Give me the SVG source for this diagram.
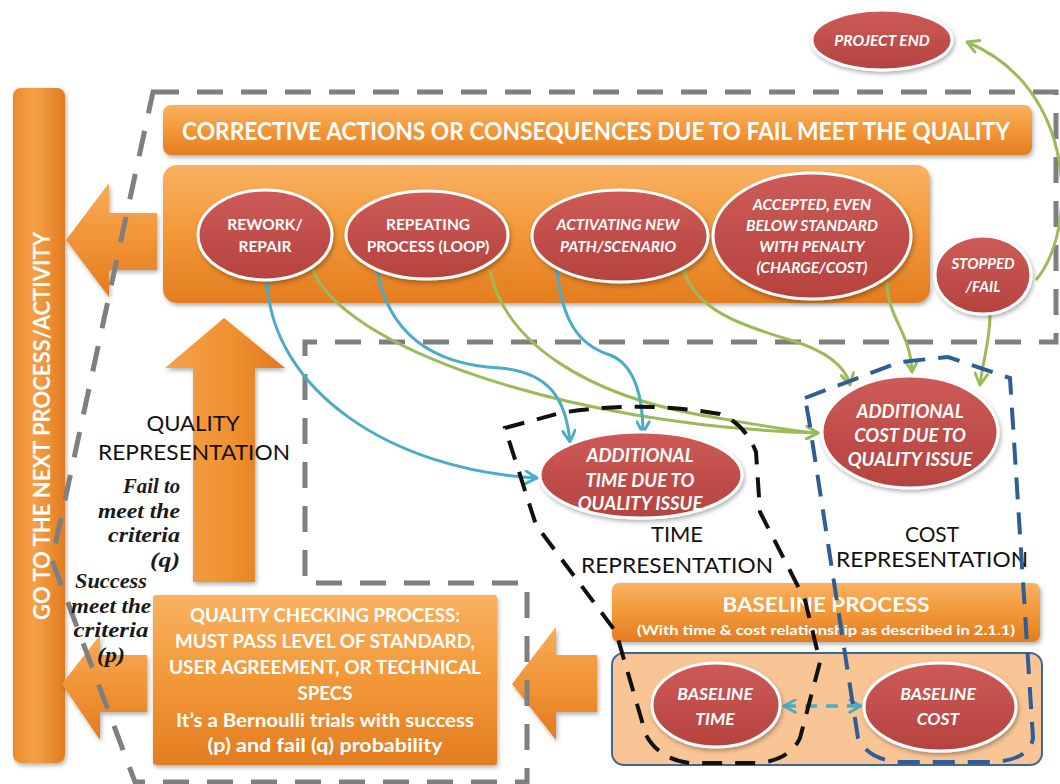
<svg xmlns="http://www.w3.org/2000/svg" width="1060" height="784" viewBox="0 0 1060 784">
  <defs>
    <linearGradient id="gOrange" x1="0" y1="0" x2="0" y2="1">
      <stop offset="0" stop-color="#f9b262"/>
      <stop offset="0.45" stop-color="#f39a3b"/>
      <stop offset="1" stop-color="#e37d20"/>
    </linearGradient>
    <linearGradient id="gOrangeH" x1="0" y1="0" x2="1" y2="0">
      <stop offset="0" stop-color="#e98a2c"/>
      <stop offset="0.4" stop-color="#f5a048"/>
      <stop offset="1" stop-color="#e27c20"/>
    </linearGradient>
    <linearGradient id="gArrowL" x1="0" y1="0" x2="0" y2="1">
      <stop offset="0" stop-color="#f7ab58"/>
      <stop offset="0.5" stop-color="#f29436"/>
      <stop offset="1" stop-color="#e27b1f"/>
    </linearGradient>
    <linearGradient id="gArrowU" x1="0" y1="0" x2="1" y2="0">
      <stop offset="0" stop-color="#f5a24b"/>
      <stop offset="0.5" stop-color="#f19232"/>
      <stop offset="1" stop-color="#e07a1e"/>
    </linearGradient>
    <linearGradient id="gRed" x1="0" y1="0" x2="0" y2="1">
      <stop offset="0" stop-color="#cd5b57"/>
      <stop offset="1" stop-color="#b5423e"/>
    </linearGradient>
    <filter id="shadow" x="-10%" y="-10%" width="120%" height="130%">
      <feDropShadow dx="1.5" dy="2.5" stdDeviation="2" flood-color="#000" flood-opacity="0.3"/>
    </filter>
    <marker id="ahBlue" viewBox="0 0 12 12" refX="10.5" refY="6" markerWidth="15" markerHeight="15" markerUnits="userSpaceOnUse" orient="auto-start-reverse">
      <path d="M1.5,1 L10.5,6 L1.5,11" fill="none" stroke="#4bacc6" stroke-width="2.3" stroke-linecap="round" stroke-linejoin="round"/>
    </marker>
    <marker id="ahGreen" viewBox="0 0 12 12" refX="10.5" refY="6" markerWidth="15" markerHeight="15" markerUnits="userSpaceOnUse" orient="auto-start-reverse">
      <path d="M1.5,1 L10.5,6 L1.5,11" fill="none" stroke="#9bbb59" stroke-width="2.3" stroke-linecap="round" stroke-linejoin="round"/>
    </marker>
    <style>
      .box { fill: url(#gOrange); filter: url(#shadow); }
      .arrow { filter: url(#shadow); }
      .oval { fill: url(#gRed); stroke: #ffffff; stroke-width: 3; filter: url(#shadow); }
      .wt { fill: #ffffff; font-family: Lato, "Liberation Sans", sans-serif; font-weight: 700; text-anchor: middle; }
      .wi { fill: #ffffff; font-family: Lato, "Liberation Sans", sans-serif; font-weight: 700; font-style: italic; text-anchor: middle; }
      .bk { fill: #111111; font-family: Lato, "Liberation Sans", sans-serif; font-weight: 400; text-anchor: middle; }
      .sf { fill: #1a1a1a; font-family: "Liberation Serif", "DejaVu Serif", serif; font-weight: 700; font-style: italic; font-size: 20px; }
      .zone { fill: none; stroke: #7f7f7f; stroke-width: 5; stroke-dasharray: 26 18; }
      .timeZone { fill: none; stroke: #111111; stroke-width: 4; stroke-dasharray: 20 13; }
      .costZone { fill: none; stroke: #2e5e96; stroke-width: 4; stroke-dasharray: 22 13; }
      .cb { fill: none; stroke: #4bacc6; stroke-width: 3; marker-end: url(#ahBlue); }
      .cg { fill: none; stroke: #9bbb59; stroke-width: 3; marker-end: url(#ahGreen); }
    </style>
  </defs>

  <rect width="1060" height="784" fill="#ffffff"/>

  <!-- next-activity bar -->
  <g id="next-activity">
    <rect x="13" y="88" width="52" height="675" rx="8" fill="url(#gOrangeH)" filter="url(#shadow)"/>
    <text class="wt" font-size="23" textLength="388" lengthAdjust="spacingAndGlyphs" transform="translate(50,426) rotate(-90)">GO TO THE NEXT PROCESS/ACTIVITY</text>
  </g>

  <!-- block arrows -->
  <g id="arrow-consequence-out">
    <polygon class="arrow" fill="url(#gArrowL)" points="66,240 109,183 109,213 157,213 157,270 109,270 109,297"/>
  </g>
  <g id="arrow-success-out">
    <polygon class="arrow" fill="url(#gArrowL)" points="62,684 100,635 100,655 147,655 147,712 100,712 100,740"/>
  </g>
  <g id="arrow-to-check">
    <polygon class="arrow" fill="url(#gArrowL)" points="512,684 556,627 556,655 597,655 597,712 556,712 556,740"/>
  </g>
  <g id="arrow-quality-up">
    <polygon class="arrow" fill="url(#gArrowU)" points="224,318 285,368 255,368 255,582 193,582 193,368 165,368"/>
  </g>

  <!-- quality region outline -->
  <path class="zone" d="M153,92 L1056,92 L1056,342 L305,342 L305,583 L527,583 L527,782 L135,782 L52,560 Z"/>

  <!-- consequences header and container -->
  <g id="consequences-header">
    <rect class="box" x="163" y="105" width="869" height="50" rx="8"/>
    <text class="wt" x="596" y="140" font-size="24" textLength="828" lengthAdjust="spacingAndGlyphs">CORRECTIVE ACTIONS OR CONSEQUENCES DUE TO FAIL MEET THE QUALITY</text>
  </g>
  <g id="consequences">
    <rect class="box" x="163" y="165" width="767" height="138" rx="14"/>
  </g>

  <!-- quality checking -->
  <g id="quality-check">
    <rect class="box" x="153" y="595" width="344" height="170" rx="3"/>
    <text class="wt" x="325" y="622" font-size="18" textLength="270" lengthAdjust="spacingAndGlyphs">QUALITY CHECKING PROCESS:</text>
    <text class="wt" x="325" y="648" font-size="18" textLength="300" lengthAdjust="spacingAndGlyphs">MUST PASS LEVEL OF STANDARD,</text>
    <text class="wt" x="325" y="674" font-size="18" textLength="312" lengthAdjust="spacingAndGlyphs">USER AGREEMENT, OR TECHNICAL</text>
    <text class="wt" x="325" y="700" font-size="18" textLength="55" lengthAdjust="spacingAndGlyphs">SPECS</text>
    <text class="wt" x="325" y="727" font-size="18" textLength="298" lengthAdjust="spacingAndGlyphs">It’s a Bernoulli trials with success</text>
    <text class="wt" x="325" y="752" font-size="18" textLength="235" lengthAdjust="spacingAndGlyphs">(p) and fail (q) probability</text>
  </g>

  <!-- baseline process -->
  <g id="baseline-process">
    <rect class="box" x="612" y="583" width="428" height="59" rx="7"/>
    <text class="wt" x="826" y="612" font-size="21" textLength="207" lengthAdjust="spacingAndGlyphs">BASELINE PROCESS</text>
    <text class="wt" x="826" y="635" font-size="12.5" textLength="378" lengthAdjust="spacingAndGlyphs">(With time &amp; cost relationship as described in 2.1.1)</text>
  </g>
  <g id="baseline-box">
    <rect x="612" y="653" width="430" height="112" rx="12" fill="#fac595" stroke="#3f6599" stroke-width="2"/>
  </g>

  <!-- free labels -->
  <g id="labels">
    <text class="bk" x="193" y="431" font-size="21" textLength="93" lengthAdjust="spacingAndGlyphs">QUALITY</text>
    <text class="bk" x="194" y="460" font-size="21" textLength="192" lengthAdjust="spacingAndGlyphs">REPRESENTATION</text>
    <text class="bk" x="677" y="542" font-size="21" textLength="52" lengthAdjust="spacingAndGlyphs">TIME</text>
    <text class="bk" x="677" y="573" font-size="21" textLength="192" lengthAdjust="spacingAndGlyphs">REPRESENTATION</text>
    <text class="bk" x="932" y="542" font-size="21" textLength="54" lengthAdjust="spacingAndGlyphs">COST</text>
    <text class="bk" x="932" y="567" font-size="21" textLength="192" lengthAdjust="spacingAndGlyphs">REPRESENTATION</text>
    <text class="sf" x="180" y="493" text-anchor="end" textLength="57" lengthAdjust="spacingAndGlyphs">Fail to</text>
    <text class="sf" x="180" y="518" text-anchor="end" textLength="82" lengthAdjust="spacingAndGlyphs">meet the</text>
    <text class="sf" x="180" y="542" text-anchor="end" textLength="72" lengthAdjust="spacingAndGlyphs">criteria</text>
    <text class="sf" x="180" y="567" text-anchor="end" textLength="30" lengthAdjust="spacingAndGlyphs">(q)</text>
    <text class="sf" x="111" y="588" text-anchor="middle" textLength="72" lengthAdjust="spacingAndGlyphs">Success</text>
    <text class="sf" x="111" y="613" text-anchor="middle" textLength="80" lengthAdjust="spacingAndGlyphs">meet the</text>
    <text class="sf" x="111" y="637" text-anchor="middle" textLength="75" lengthAdjust="spacingAndGlyphs">criteria</text>
    <text class="sf" x="111" y="662" text-anchor="middle" textLength="28" lengthAdjust="spacingAndGlyphs">(p)</text>
  </g>

  <!-- connectors -->
  <g id="connectors">
    <path class="cb" d="M267,281 C272,390 390,470 537,478"/>
    <path class="cg" d="M312,268 C340,345 560,425 818,433"/>
    <path class="cb" d="M377,270 C390,340 440,365 500,368 C550,372 566,400 570,442"/>
    <path class="cg" d="M490,270 C505,345 590,395 700,415 C760,425 795,432 818,433"/>
    <path class="cb" d="M557,270 C562,320 578,345 610,355 C636,365 643,400 643,433"/>
    <path class="cg" d="M683,268 C695,310 740,325 790,340 C830,352 846,368 850,385"/>
    <path class="cg" d="M887,282 C888,320 910,330 912,372"/>
    <path class="cg" d="M990,315 C990,340 983,360 980,385"/>
    <path class="cg" d="M1036,280 C1078,230 1078,88 967,42"/>
    <path fill="none" stroke="#4bacc6" stroke-width="3.5" stroke-dasharray="12 9" marker-start="url(#ahBlue)" marker-end="url(#ahBlue)" d="M784,706 L861,706"/>
  </g>

  <!-- representation outlines -->
  <path class="timeZone" d="M505,428 L560,413 Q640,400 720,414 Q745,424 756,452 L760,512 L805,600 L820,662 L800,738 Q790,760 758,763 L690,763 Q660,760 646,735 L616,632 L536,525 Z"/>
  <path class="costZone" d="M805,398 L900,362 L948,357 L1010,378 L1033,738 Q1030,760 992,762 L900,762 Q868,760 858,738 L809,420 Z"/>

  <!-- consequence nodes -->
  <g id="rework">
    <ellipse class="oval" cx="265" cy="235" rx="67" ry="45"/>
    <text class="wt" x="265" y="230" font-size="15.5">REWORK/</text>
    <text class="wt" x="265" y="252" font-size="15.5">REPAIR</text>
  </g>
  <g id="repeating">
    <ellipse class="oval" cx="427" cy="235" rx="81" ry="44"/>
    <text class="wt" x="428" y="230" font-size="15.5">REPEATING</text>
    <text class="wt" x="428" y="252" font-size="15.5">PROCESS (LOOP)</text>
  </g>
  <g id="activating">
    <ellipse class="oval" cx="620" cy="236" rx="88" ry="46"/>
    <text class="wi" x="618" y="230" font-size="15.5">ACTIVATING NEW</text>
    <text class="wi" x="618" y="252" font-size="15.5">PATH/SCENARIO</text>
  </g>
  <g id="accepted">
    <ellipse class="oval" cx="812" cy="236" rx="99" ry="63"/>
    <text class="wi" x="812" y="210" font-size="15.5">ACCEPTED, EVEN</text>
    <text class="wi" x="812" y="231" font-size="15.5">BELOW  STANDARD</text>
    <text class="wi" x="812" y="252" font-size="15.5">WITH  PENALTY</text>
    <text class="wi" x="812" y="273" font-size="15.5">(CHARGE/COST)</text>
  </g>
  <g id="stopped">
    <ellipse class="oval" cx="983" cy="275" rx="48" ry="39"/>
    <text class="wi" x="983" y="269" font-size="15">STOPPED</text>
    <text class="wi" x="983" y="292" font-size="15">/FAIL</text>
  </g>
  <g id="project-end">
    <ellipse class="oval" cx="882" cy="40" rx="70" ry="30" stroke="none"/>
    <text class="wi" x="882" y="46" font-size="15.5">PROJECT END</text>
  </g>

  <!-- representation nodes -->
  <g id="additional-time">
    <ellipse class="oval" cx="641" cy="475" rx="101" ry="43"/>
    <text class="wi" x="640" y="462" font-size="18.5">ADDITIONAL</text>
    <text class="wi" x="640" y="487" font-size="18.5">TIME DUE TO</text>
    <text class="wi" x="640" y="510" font-size="18.5">QUALITY ISSUE</text>
  </g>
  <g id="additional-cost">
    <ellipse class="oval" cx="910" cy="432" rx="88" ry="56"/>
    <text class="wi" x="910" y="418" font-size="18.5">ADDITIONAL</text>
    <text class="wi" x="910" y="442" font-size="18.5">COST DUE TO</text>
    <text class="wi" x="910" y="466" font-size="18.5">QUALITY ISSUE</text>
  </g>
  <g id="baseline-time">
    <ellipse class="oval" cx="716" cy="705" rx="64" ry="42"/>
    <text class="wi" x="715" y="700" font-size="17.5">BASELINE</text>
    <text class="wi" x="715" y="725" font-size="17.5">TIME</text>
  </g>
  <g id="baseline-cost">
    <ellipse class="oval" cx="940" cy="707" rx="76" ry="44"/>
    <text class="wi" x="938" y="700" font-size="17.5">BASELINE</text>
    <text class="wi" x="938" y="725" font-size="17.5">COST</text>
  </g>
</svg>
